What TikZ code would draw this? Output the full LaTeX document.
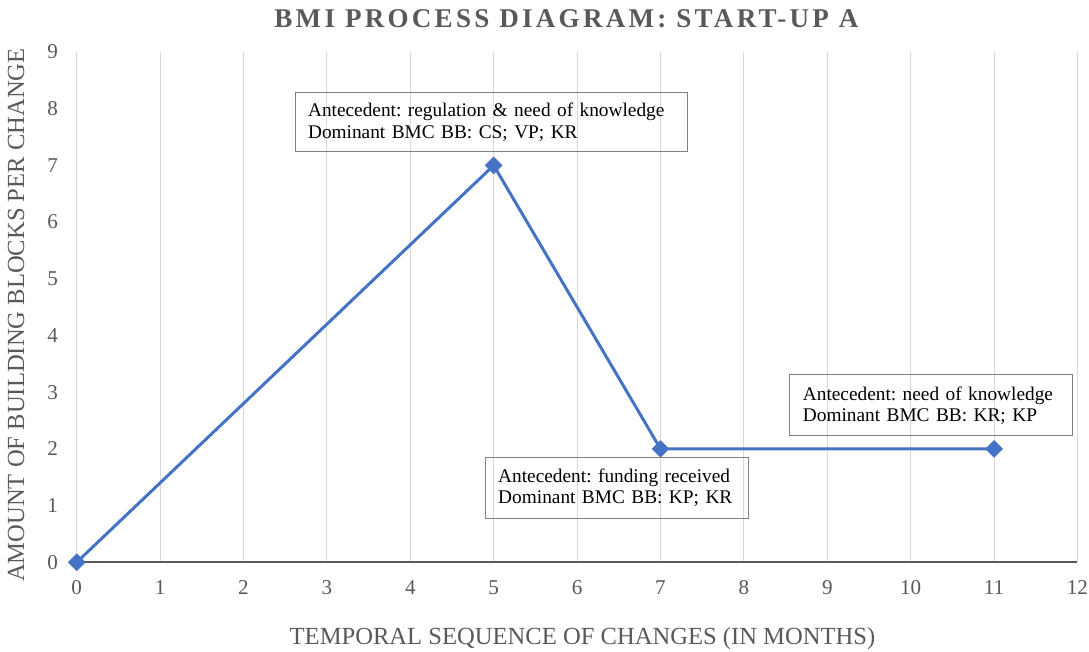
\documentclass[tikz,border=0pt]{standalone}
\usepackage{fontspec}
\setmainfont{Liberation Serif}
\newfontfamily\titlefont[LetterSpace=12]{Liberation Serif}
\usepackage{tikz}
\usetikzlibrary{shapes.geometric}
\frenchspacing

\definecolor{seriesblue}{HTML}{4472C4}
\definecolor{gridgray}{HTML}{D9D9D9}
\definecolor{axisgray}{HTML}{595959}
\definecolor{boxgray}{HTML}{7F7F7F}

\tikzset{
  gridline/.style={draw=gridgray, line width=0.6pt},
  ticklabel/.style={text=axisgray, inner sep=0pt, font=\fontsize{12}{14}\selectfont},
  axistitle/.style={text=axisgray, inner sep=0pt, font=\fontsize{14}{16}\selectfont},
  marker/.style={diamond, fill=seriesblue, inner sep=0pt, minimum size=0.36cm},
  callout/.style={draw=boxgray, line width=0.6pt, inner xsep=0.26cm, align=left,
    font=\fontsize{11}{12.1}\selectfont},
}

\begin{document}
\begin{tikzpicture}[x=1.668cm, y=1.134cm]
\useasboundingbox (-0.92,-1.582) rectangle (12.138,9.917);

% vertical grid and the time axis
\foreach \x in {0,...,12}
  \draw[gridline] (\x,0) -- (\x,9);
\draw[axisgray, line width=1pt] (0,0) -- (12,0);

\foreach \x in {0,...,12}
  \node[ticklabel, anchor=base] (xt\x) at (\x,-0.577) {\x};
\foreach \y in {0,...,9}
  \node[ticklabel] (yt\y) at (-0.29,\y) {\y};

% changes: month / building blocks
\foreach \x/\y in {0/0, 5/7, 7/2, 11/2}
  \coordinate (p\x) at (\x,\y);
\draw[seriesblue, line width=1.7pt, line join=round] (p0) -- (p5) -- (p7) -- (p11);
\foreach \x in {0,5,7,11}
  \node[marker] (m\x) at (p\x) {};

\node[callout, text width=7.32cm, minimum height=1.18cm] (c5) at (4.968,7.762)
  {Antecedent: regulation \& need of knowledge\\Dominant BMC BB: CS; VP; KR};
\node[callout, text width=4.75cm, minimum height=1.22cm] (c7) at (6.478,1.314)
  {Antecedent: funding received\\Dominant BMC BB: KP; KR};
\node[callout, text width=5.13cm, minimum height=1.22cm] (c11) at (10.245,2.766)
  {Antecedent: need of knowledge\\Dominant BMC BB: KR; KP};

% titles
\node[text=axisgray, inner sep=0pt, anchor=base,
  font={\titlefont\bfseries\fontsize{15.4}{18}\selectfont}] (title) at (5.873,9.44)
  {BMI PROCESS DIAGRAM: START-UP A};
\node[axistitle, anchor=base] (xtitle) at (6.065,-1.446)
  {TEMPORAL SEQUENCE OF CHANGES (IN MONTHS)};
\node[axistitle, rotate=90] (ytitle) at (-0.728,4.36)
  {AMOUNT OF BUILDING BLOCKS PER CHANGE};
\end{tikzpicture}
\end{document}
